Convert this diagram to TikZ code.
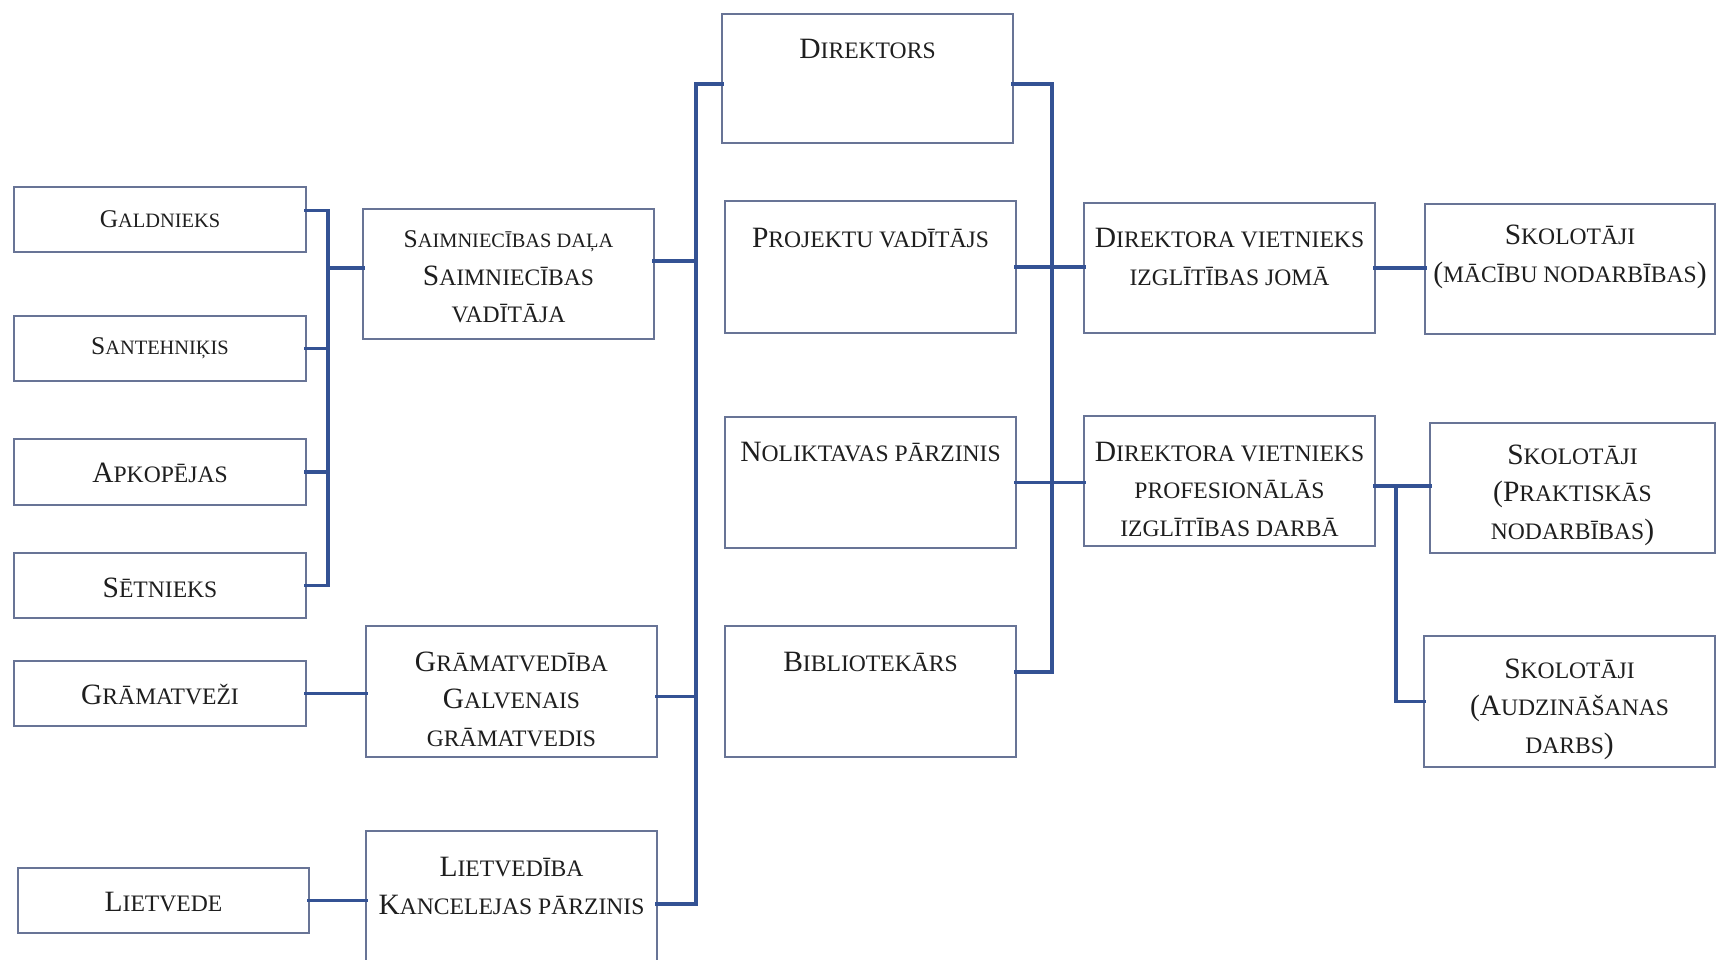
\documentclass[tikz,border=0pt]{standalone}
\usepackage{fontspec}
\setmainfont{Liberation Serif}
\usetikzlibrary{calc}
\makeatletter
\newcommand\sm[1]{{\fontsize{\fpeval{0.8*\f@size}}{\f@baselineskip}\selectfont #1}}
\makeatother
\definecolor{boxc}{RGB}{104,116,150}
\definecolor{linec}{RGB}{52,82,148}
\definecolor{txtc}{RGB}{30,30,30}
\tikzset{
  orgbox/.style={draw=boxc, line width=1.6pt, inner sep=0pt, outer sep=0pt, fill=white},
  conn/.style={draw=linec, line width=3.4pt, line cap=rect, line join=miter},
  lbl/.style={text=txtc, align=center, inner sep=0pt, font=\fontsize{29.5}{37.5}\selectfont},
  lblsmall/.style={lbl, font=\fontsize{25.5}{37.5}\selectfont},
}
\newcommand\bx[5]{\node[orgbox, minimum width={#4pt-#2pt}, minimum height={#5pt-#3pt}] (#1) at ({(#2+#4)/2},{(#3+#5)/2}) {};}
\begin{document}
\begin{tikzpicture}[x=1pt,y=-1pt]
\useasboundingbox (0,0) rectangle (1717,960);
\clip (0,0) rectangle (1717,960);
\fill[white] (0,0) rectangle (1717,960);

% connectors (drawn first, boxes on top)
\coordinate (lbx) at (328,0);
\coordinate (mbtop) at (696,84);
\coordinate (mbbot) at (696,904);
\coordinate (rbtop) at (1052,84);
\coordinate (rbbot) at (1052,672);
\coordinate (brx) at (1396,486);

% boxes
\bx{gald}{14}{187}{306}{252}
\bx{sant}{14}{316}{306}{381}
\bx{apk}{14}{439}{306}{505}
\bx{set}{14}{553}{306}{618}
\bx{gramz}{14}{661}{306}{726}
\bx{lv}{18}{868}{309}{933}
\bx{saim}{363}{209}{654}{339}
\bx{gram}{366}{626}{657}{757}
\bx{liet}{366}{831}{657}{980}
\bx{dir}{722}{14}{1013}{143}
\bx{proj}{725}{201}{1016}{333}
\bx{nol}{725}{417}{1016}{548}
\bx{bib}{725}{626}{1016}{757}
\bx{dv1}{1084}{203}{1375}{333}
\bx{dv2}{1084}{416}{1375}{546}
\bx{sk1}{1425}{204}{1715}{334}
\bx{sk2}{1430}{423}{1715}{553}
\bx{sk3}{1424}{636}{1715}{767}

% left group bus
\draw[conn] ([yshift=9pt]gald.east) -- ([yshift=9pt]gald.east -| lbx) |- (set.east);
\draw[conn] (sant.east) -- (sant.east -| lbx);
\draw[conn] (apk.east) -- (apk.east -| lbx);
\draw[conn] ([yshift=6pt]saim.west) -- ([yshift=6pt]saim.west -| lbx);
\draw[conn] (gramz.east) -- (gramz.east -| gram.west);
\draw[conn] (lv.east) -- (lv.east -| liet.west);

% main left bus
\draw[conn] (mbtop -| dir.west) -- (mbtop) -- (mbbot) -- (mbbot -| liet.east);
\draw[conn] ([yshift=13pt]saim.east) -- ([yshift=13pt]saim.east -| mbtop);
\draw[conn] ([yshift=-5pt]gram.east) -- ([yshift=-5pt]gram.east -| mbtop);

% right bus
\draw[conn] (rbtop -| dir.east) -- (rbtop) -- (rbbot) -- (rbbot -| bib.east);
\draw[conn] (proj.east) -- (proj.east -| dv1.west);
\draw[conn] (nol.east) -- (nol.east -| dv2.west);
\draw[conn] (dv1.east) -- (dv1.east -| sk1.west);
\draw[conn] (brx -| dv2.east) -- (brx -| sk2.west);
\draw[conn] (brx) |- (sk3.west);

% labels
\node[lblsmall] at (gald.center |- 0,219) {G\sm{ALDNIEKS}};
\node[lblsmall] at (sant.center |- 0,348) {S\sm{ANTEHNIĶIS}};
\node[lbl] at (apk.center |- 0,473) {A\sm{PKOPĒJAS}};
\node[lbl] at (set.center |- 0,588) {S\sm{ĒTNIEKS}};
\node[lbl] at (gramz.center |- 0,695) {G\sm{RĀMATVEŽI}};
\node[lbl] at (lv.center |- 0,902) {L\sm{IETVEDE}};
\node[lbl] at (saim.center |- 0,277) {{\fontsize{25.5}{37.5}\selectfont S\sm{AIMNIECĪBAS DAĻA}}\\S\sm{AIMNIECĪBAS}\\\sm{VADĪTĀJA}};
\node[lbl] at (gram.center |- 0,699) {G\sm{RĀMATVEDĪBA}\\G\sm{ALVENAIS}\\\sm{GRĀMATVEDIS}};
\node[lbl] at (liet.center |- 0,886) {L\sm{IETVEDĪBA}\\K\sm{ANCELEJAS PĀRZINIS}};
\node[lbl] at (dir.center |- 0,49) {D\sm{IREKTORS}};
\node[lbl] at (proj.center |- 0,238) {P\sm{ROJEKTU VADĪTĀJS}};
\node[lbl] at (nol.center |- 0,452) {N\sm{OLIKTAVAS PĀRZINIS}};
\node[lbl] at (bib.center |- 0,662) {B\sm{IBLIOTEKĀRS}};
\node[lbl] at (dv1.center |- 0,257) {D\sm{IREKTORA VIETNIEKS}\\\sm{IZGLĪTĪBAS JOMĀ}};
\node[lbl] at (dv2.center |- 0,489) {D\sm{IREKTORA VIETNIEKS}\\\sm{PROFESIONĀLĀS}\\\sm{IZGLĪTĪBAS DARBĀ}};
\node[lbl] at (sk1.center |- 0,257) {S\sm{KOLOTĀJI}\\(\sm{MĀCĪBU NODARBĪBAS})};
\node[lbl] at (sk2.center |- 0,495) {S\sm{KOLOTĀJI}\\(P\sm{RAKTISKĀS}\\\sm{NODARBĪBAS})};
\node[lbl] at (sk3.center |- 0,709) {S\sm{KOLOTĀJI}\\(A\sm{UDZINĀŠANAS}\\\sm{DARBS})};
\end{tikzpicture}
\end{document}
